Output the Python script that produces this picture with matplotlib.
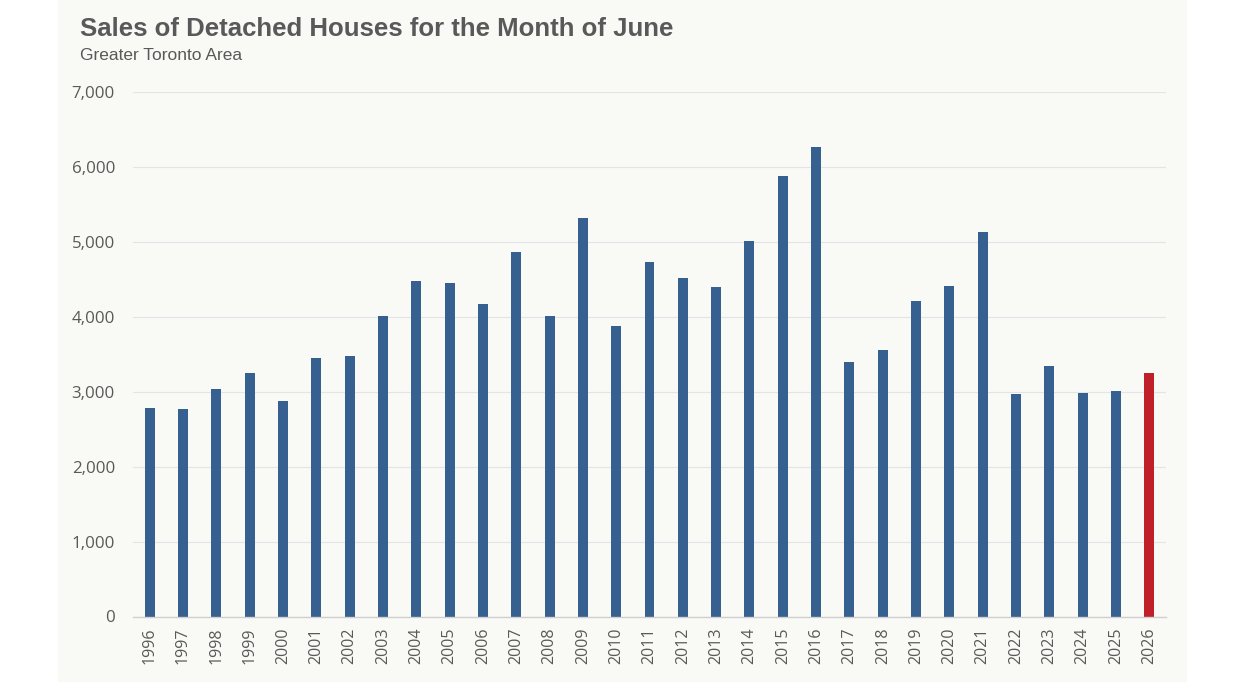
import matplotlib
matplotlib.use("Agg")
import matplotlib.pyplot as plt
from matplotlib.patches import Rectangle
from matplotlib.ticker import FuncFormatter

years = [str(y) for y in range(1996, 2027)]
sales = [2785, 2765, 3035, 3245, 2875, 3445, 3475, 4005, 4475, 4445, 4170,
         4865, 4015, 5325, 3875, 4730, 4515, 4395, 5015, 5875, 6265, 3395,
         3555, 4205, 4405, 5135, 2975, 3340, 2980, 3005, 3250]
highlight_year = "2026"

blue = "#36608f"
red = "#c0202a"
grey_text = "#595959"
panel_bg = "#f9f9f6"

plt.rcParams['font.family'] = ['Open Sans', 'DejaVu Sans']

fig = plt.figure(figsize=(12.4, 6.91), dpi=100)
fig.patch.set_facecolor("white")

# off-white panel behind the chart
fig.patches.append(Rectangle((58 / 1240, 1 - 682 / 691), (1187 - 58) / 1240, 682 / 691,
                             transform=fig.transFigure, facecolor=panel_bg,
                             edgecolor="none", zorder=-1))

ax = fig.add_axes([133 / 1240, 1 - 616.5 / 691, (1166 - 133) / 1240, (616.5 - 92) / 691])
ax.set_facecolor(panel_bg)
ax.patch.set_alpha(0)

colors = [red if y == highlight_year else blue for y in years]
x = list(range(len(years)))
ax.bar(x, sales, width=0.3, color=colors, zorder=3)

ax.set_xlim(-0.5, len(years) - 0.5)
ax.set_ylim(0, 7000)
ax.set_yticks(range(0, 7001, 1000))
ax.yaxis.set_major_formatter(FuncFormatter(lambda v, p: f"{int(v):,}"))
ax.set_xticks(x)
ax.set_xticklabels(years, rotation=90)

ax.grid(axis="y", color="#e4e4e4", linewidth=0.8, zorder=0)
ax.tick_params(axis="both", length=0, colors=grey_text, labelsize=11.5)
ax.tick_params(axis="y", pad=13, labelsize=12.2)
ax.tick_params(axis="x", pad=8)
for s in ["left", "right", "top"]:
    ax.spines[s].set_visible(False)
ax.spines["bottom"].set_color("#d0d0d0")
ax.spines["bottom"].set_linewidth(1.0)
ax.spines["bottom"].set_zorder(4)

fig.text(80 / 1240, 1 - 29 / 691, "Sales of Detached Houses for the Month of June",
         family=['Liberation Sans', 'DejaVu Sans'], fontsize=18.5, fontweight="bold",
         color=grey_text, va="center", ha="left")
fig.text(80 / 1240, 1 - 55 / 691, "Greater Toronto Area",
         family=['Liberation Sans', 'DejaVu Sans'], fontsize=12.5,
         color=grey_text, va="center", ha="left")

fig.savefig("out.png", dpi=100, facecolor=fig.get_facecolor())
